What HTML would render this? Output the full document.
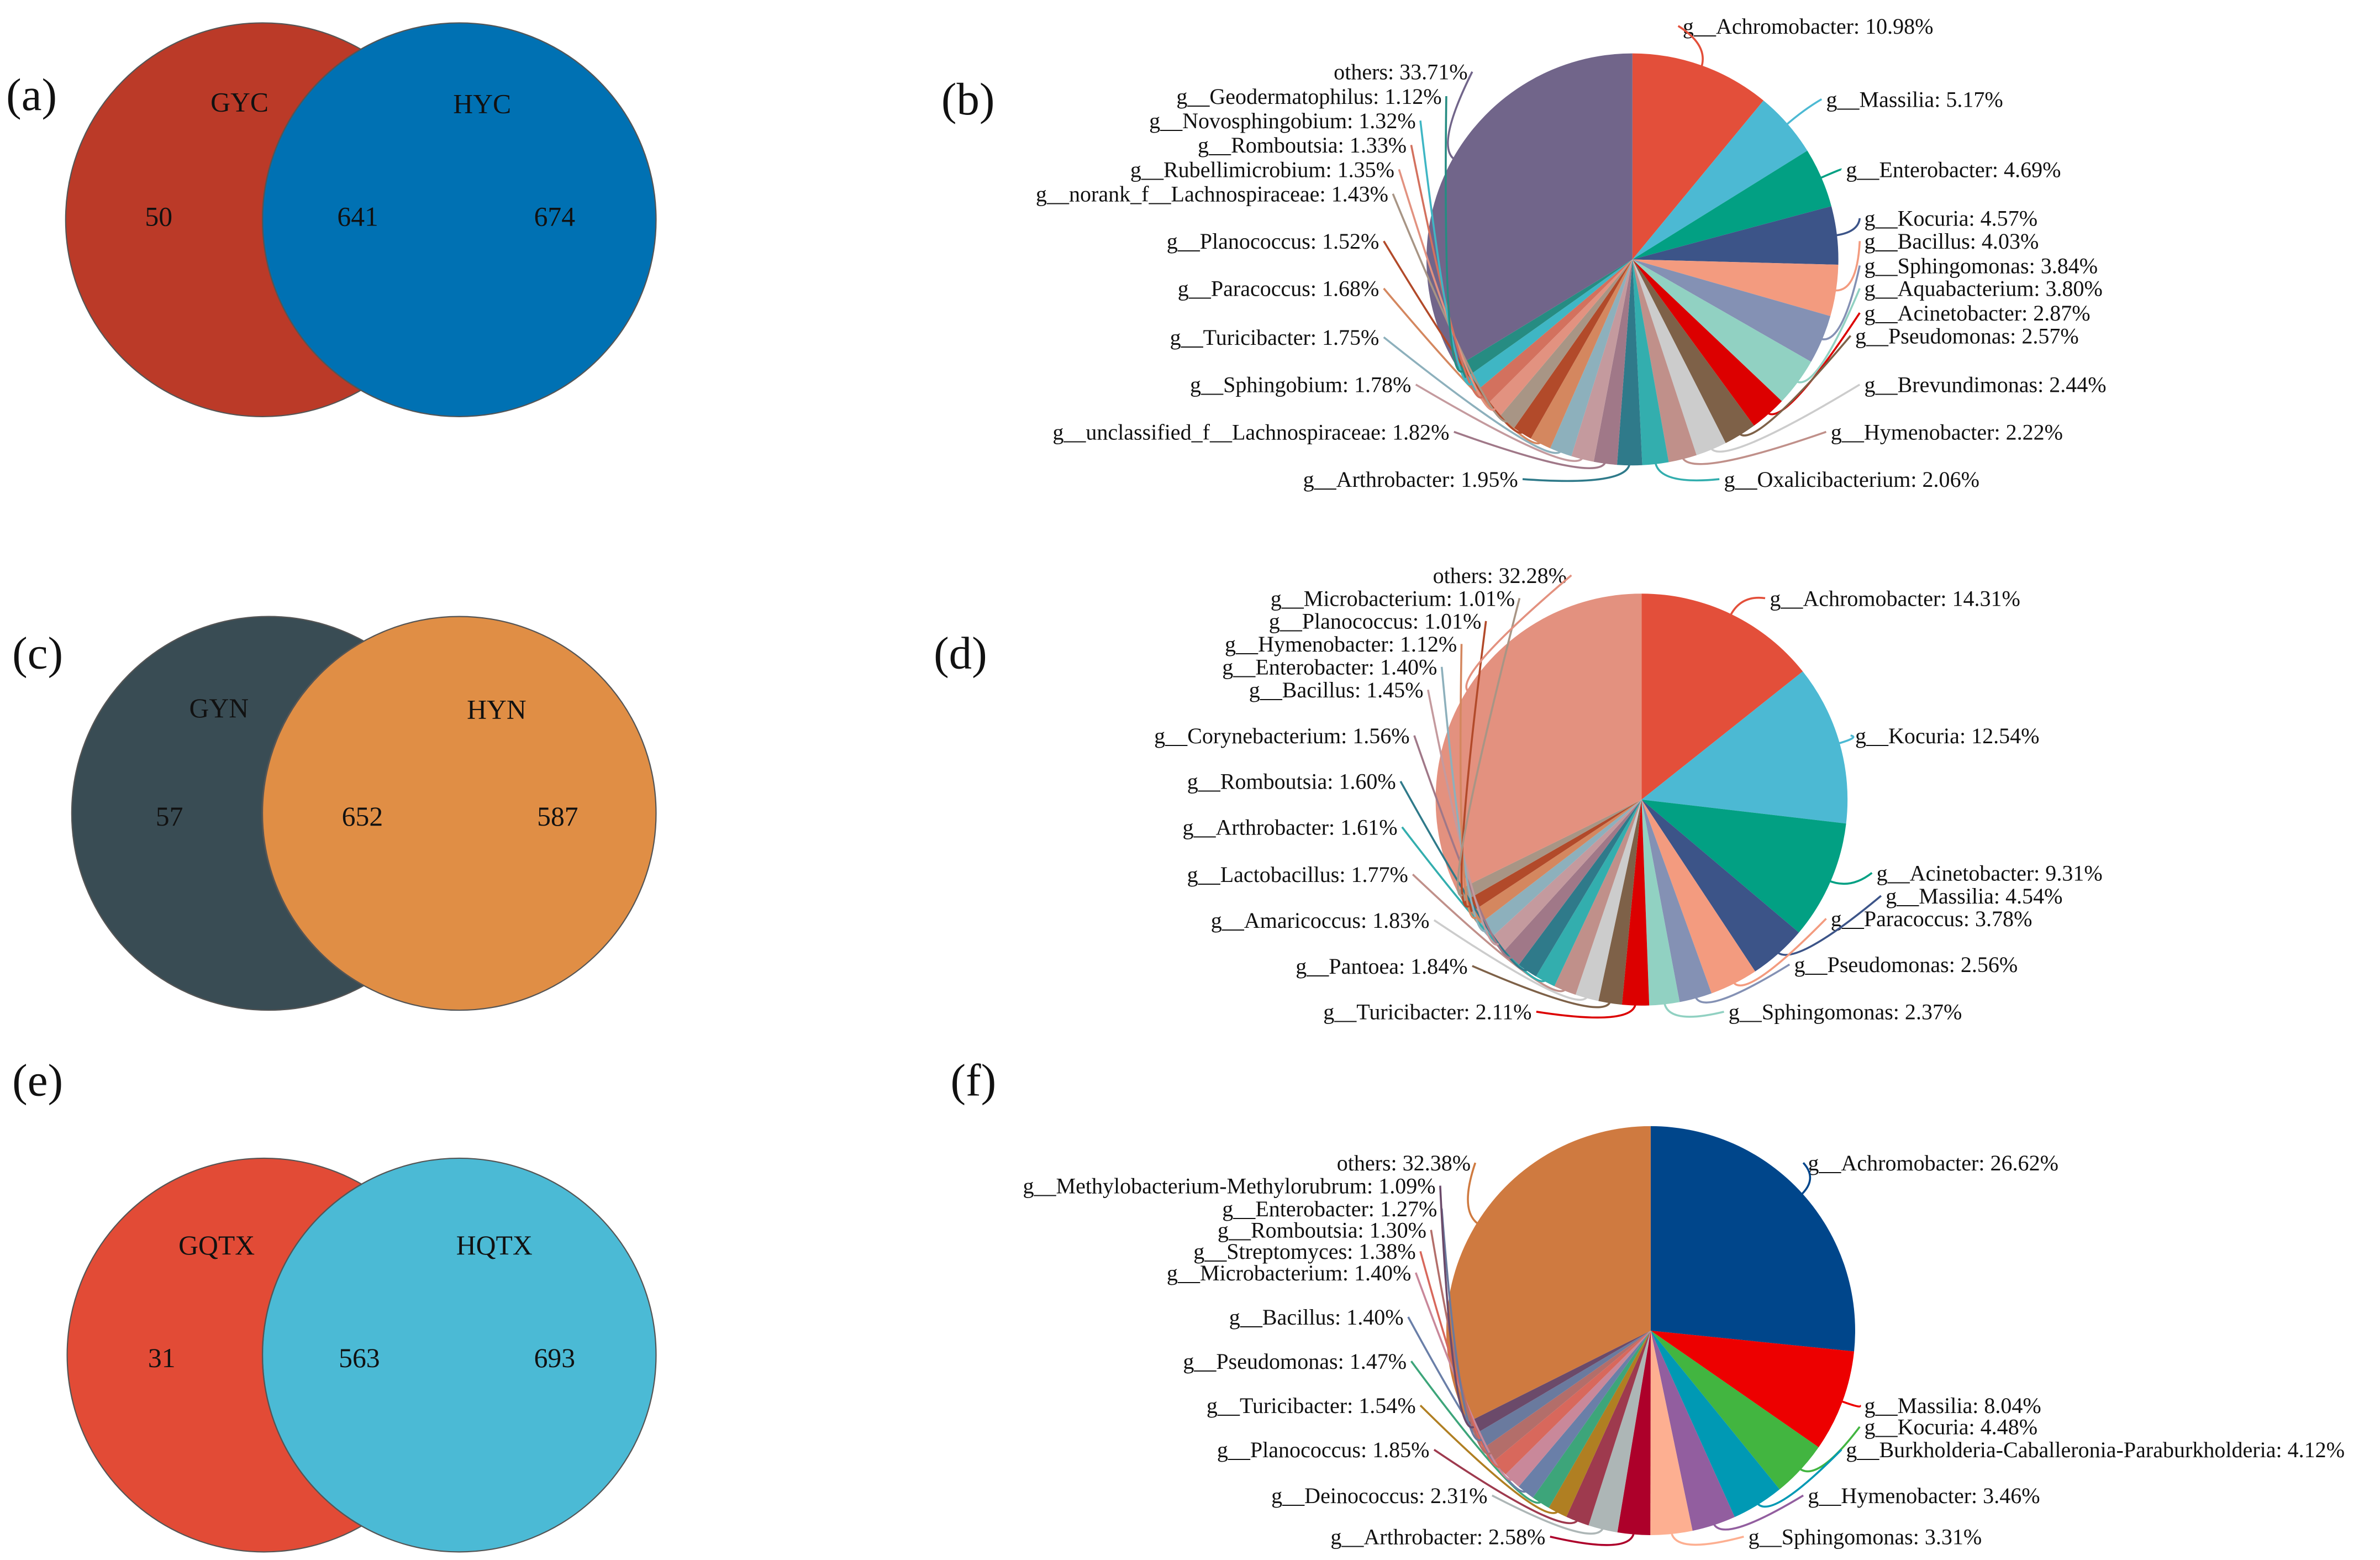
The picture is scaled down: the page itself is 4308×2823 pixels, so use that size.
<!DOCTYPE html>
<html><head><meta charset="utf-8"><style>
html,body{margin:0;padding:0;background:#fff}
svg{display:block}
text{font-family:"Liberation Serif",serif;fill:#111}
</style></head><body>
<svg id="fig" width="4308" height="2823" viewBox="0 0 1560 1022.3" xmlns="http://www.w3.org/2000/svg">
<rect width="1560" height="1023" fill="#fff"/>
<g>
<circle cx="172" cy="144" r="129" fill="#BB3A28" stroke="#555" stroke-width="0.8"/>
<circle cx="301" cy="144" r="129" fill="#0071B3" stroke="#555" stroke-width="0.8"/>
<path d="M 236.5 32.3 A 129 129 0 0 0 236.5 255.7" fill="none" stroke="#555" stroke-width="0.8"/>
<text x="138" y="73" font-size="18">GYC</text>
<text x="297" y="74" font-size="18">HYC</text>
<text x="95" y="148" font-size="18">50</text>
<text x="221" y="148" font-size="18">641</text>
<text x="350" y="148" font-size="18">674</text>
</g>
<g>
<circle cx="176" cy="533" r="129" fill="#394C54" stroke="#555" stroke-width="0.8"/>
<circle cx="301" cy="533" r="129" fill="#E08E45" stroke="#555" stroke-width="0.8"/>
<path d="M 238.5 420 A 129 129 0 0 0 238.5 646" fill="none" stroke="#555" stroke-width="0.8"/>
<text x="124" y="470" font-size="18">GYN</text>
<text x="306" y="471" font-size="18">HYN</text>
<text x="102" y="541" font-size="18">57</text>
<text x="224" y="541" font-size="18">652</text>
<text x="352" y="541" font-size="18">587</text>
</g>
<g>
<circle cx="173" cy="888" r="129" fill="#E24B36" stroke="#555" stroke-width="0.8"/>
<circle cx="301" cy="888" r="129" fill="#4BBAD5" stroke="#555" stroke-width="0.8"/>
<path d="M 237 776 A 129 129 0 0 0 237 1000" fill="none" stroke="#555" stroke-width="0.8"/>
<text x="117" y="822" font-size="18">GQTX</text>
<text x="299" y="822" font-size="18">HQTX</text>
<text x="97" y="896" font-size="18">31</text>
<text x="222" y="896" font-size="18">563</text>
<text x="350" y="896" font-size="18">693</text>
</g>
<text x="4" y="72" font-size="30">(a)</text>
<text x="617" y="75" font-size="30">(b)</text>
<text x="8" y="438" font-size="30">(c)</text>
<text x="612" y="438" font-size="30">(d)</text>
<text x="8" y="718" font-size="30">(e)</text>
<text x="623" y="718" font-size="30">(f)</text>
<g id="pies"></g>
</svg>
<script>
// Pie (b)
const bNames = ["g__Achromobacter","g__Massilia","g__Enterobacter","g__Kocuria","g__Bacillus","g__Sphingomonas","g__Aquabacterium","g__Acinetobacter","g__Pseudomonas","g__Brevundimonas","g__Hymenobacter","g__Oxalicibacterium","g__Arthrobacter","g__unclassified_f__Lachnospiraceae","g__Sphingobium","g__Turicibacter","g__Paracoccus","g__Planococcus","g__norank_f__Lachnospiraceae","g__Rubellimicrobium","g__Romboutsia","g__Novosphingobium","g__Geodermatophilus","others"];
const bValues = [10.98,5.17,4.69,4.57,4.03,3.84,3.80,2.87,2.57,2.44,2.22,2.06,1.95,1.82,1.78,1.75,1.68,1.52,1.43,1.35,1.33,1.32,1.12,33.71];
// Pie (d)
const dNames = ["g__Achromobacter","g__Kocuria","g__Acinetobacter","g__Massilia","g__Paracoccus","g__Pseudomonas","g__Sphingomonas","g__Turicibacter","g__Pantoea","g__Amaricoccus","g__Lactobacillus","g__Arthrobacter","g__Romboutsia","g__Corynebacterium","g__Bacillus","g__Enterobacter","g__Hymenobacter","g__Planococcus","g__Microbacterium","others"];
const dValues = [14.31,12.54,9.31,4.54,3.78,2.56,2.37,2.11,1.84,1.83,1.77,1.61,1.60,1.56,1.45,1.40,1.12,1.01,1.01,32.28];
// Pie (f)
const fNames = ["g__Achromobacter","g__Massilia","g__Kocuria","g__Burkholderia-Caballeronia-Paraburkholderia","g__Hymenobacter","g__Sphingomonas","g__Arthrobacter","g__Deinococcus","g__Planococcus","g__Turicibacter","g__Pseudomonas","g__Bacillus","g__Microbacterium","g__Streptomyces","g__Romboutsia","g__Enterobacter","g__Methylobacterium-Methylorubrum","others"];
const fValues = [26.62,8.04,4.48,4.12,3.46,3.31,2.58,2.31,1.85,1.54,1.47,1.40,1.40,1.38,1.30,1.27,1.09,32.38];

const bColors = ["#E34F3A","#4CB9D3","#02A083","#3C5488","#F39B7F","#8491B4","#91D1C2","#DC0000","#7E6148","#CCCCCC","#C0908A","#33AEAE","#2F7A8A","#A07888","#C49A9E","#8DB0BC","#D4875F","#B24A2A","#A89585","#E29280","#D3715E","#3FB6C4","#268C82","#71658A"];
const dColors = ["#E34F3A","#4CB9D3","#02A083","#3C5488","#F39B7F","#8491B4","#91D1C2","#DC0000","#7E6148","#CCCCCC","#C0908A","#33AEAE","#2F7A8A","#A07888","#C49A9E","#8DB0BC","#D4875F","#B24A2A","#A89585","#E3917F"];
const fColors = ["#00468B","#ED0000","#42B540","#0099B4","#925E9F","#FDAF91","#AD002A","#ADB6B6","#9E3A4E","#B07F22","#3DA57A","#6A7FA8","#C9889A","#D8685C","#B36E6A","#6A7A9E","#6B4A6A","#CF7A40"];

// label layout [x, y, side]  (side 1: start-anchored right, -1: end-anchored left)
const bLayout = [[1103,22,1],[1197,70,1],[1210,116,1],[1222,148,1],[1222,163,1],[1222,179,1],[1222,194,1],[1222,210,1],[1216,225,1],[1222,257,1],[1200,288,1],[1130,319,1],[995,319,-1],[950,288,-1],[925,257,-1],[904,226,-1],[904,194,-1],[904,163,-1],[910,132,-1],[914,116,-1],[922,100,-1],[928,84,-1],[945,68,-1],[962,52,-1]];
const dLayout = [[1160,397,1],[1216,487,1],[1230,577,1],[1236,592,1],[1200,607,1],[1176,637,1],[1133,668,1],[1004,668,-1],[962,638,-1],[937,608,-1],[923,578,-1],[916,547,-1],[915,517,-1],[924,487,-1],[933,457,-1],[942,442,-1],[955,427,-1],[971,412,-1],[993,397,-1],[1027,382,-1]];
const fLayout = [[1185,767,1],[1222,926,1],[1222,940,1],[1210,955,1],[1185,985,1],[1146,1012,1],[1013,1012,-1],[975,985,-1],[937,955,-1],[928,926,-1],[922,897,-1],[920,868,-1],[925,839,-1],[928,825,-1],[935,811,-1],[942,797,-1],[941,782,-1],[964,767,-1]];

const NS = "http://www.w3.org/2000/svg";
const root = document.getElementById("pies");
function angleScale(cum, total){ return cum/total*2*Math.PI; }
function pt(cx,cy,r,a){ return [cx + r*Math.sin(a), cy - r*Math.cos(a)]; }

function drawPie(id, names, values, colors, layout, cx, cy, r){
  const g = document.createElementNS(NS,"g");
  
  
  root.appendChild(g);
  const total = values.reduce((s,v)=>s+v,0);
  let cum = 0;
  const lines = document.createElementNS(NS,"g");
  for(let i=0;i<values.length;i++){
    const a0 = angleScale(cum,total), a1 = angleScale(cum+values[i],total);
    cum += values[i];
    const p0 = pt(cx,cy,r,a0), p1 = pt(cx,cy,r,a1);
    const large = (a1-a0) > Math.PI ? 1 : 0;
    const path = document.createElementNS(NS,"path");
    path.setAttribute("d",`M${cx},${cy} L${p0[0]},${p0[1]} A${r},${r} 0 ${large} 1 ${p1[0]},${p1[1]} Z`);
    path.setAttribute("fill",colors[i % colors.length]);
    
    
    g.appendChild(path);
    // leader line
    const am = (a0+a1)/2;
    const e = pt(cx,cy,r-2,am), o = pt(cx,cy,r+14,am);
    const L = layout[i];
    const tx = L[2] > 0 ? L[0]-3 : L[0]+3, ty = L[1]-5;
    const ln = document.createElementNS(NS,"path");
    ln.setAttribute("d",`M${e[0]},${e[1]} Q${o[0]},${o[1]} ${tx},${ty}`);
    ln.setAttribute("fill","none");
    ln.setAttribute("stroke",colors[i % colors.length]);
    ln.setAttribute("stroke-width","1.3");
    
    
    lines.appendChild(ln);
    const t = document.createElementNS(NS,"text");
    t.setAttribute("x",L[0]); t.setAttribute("y",L[1]);
    t.setAttribute("font-size","14.5");
    t.setAttribute("text-anchor", L[2] > 0 ? "start" : "end");
    t.textContent = names[i] + ": " + values[i].toFixed(2) + "%";
    
    
    g.appendChild(t);
  }
  g.appendChild(lines);
}
drawPie("b", bNames, bValues, bColors, bLayout, 1070, 170, 135);
drawPie("d", dNames, dValues, dColors, dLayout, 1076, 524, 135);
drawPie("f", fNames, fValues, fColors, fLayout, 1082, 872, 134);
</script>
</body></html>
